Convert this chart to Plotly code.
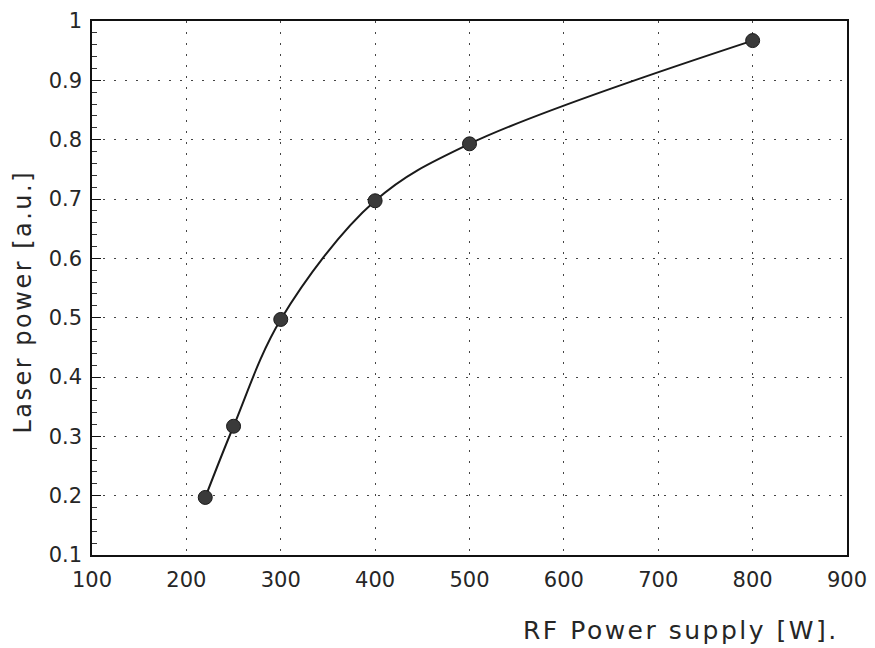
import plotly.graph_objects as go

rf_power = [220, 250, 300, 400, 500, 800]
laser_power = [0.197, 0.317, 0.497, 0.697, 0.793, 0.967]
x_ticks = [100, 200, 300, 400, 500, 600, 700, 800, 900]
y_ticks = [0.1, 0.2, 0.3, 0.4, 0.5, 0.6, 0.7, 0.8, 0.9, 1.0]
y_tick_labels = ["0.1", "0.2", "0.3", "0.4", "0.5", "0.6", "0.7", "0.8", "0.9", "1"]
x_title = "RF Power supply [W]."
y_title = "Laser power [a.u.]"

FONT = "DejaVu Sans"
INK = "#262626"
L, R, T, B = 92, 28, 21, 93
W, H = 875, 648
PW, PH = W - L - R, H - T - B

fig = go.Figure()
fig.add_trace(go.Scatter(
    x=rf_power, y=laser_power,
    mode="lines+markers",
    line=dict(color="#1a1a1a", width=2, shape="spline", smoothing=1.0),
    marker=dict(size=14, color="#3a3a3a", line=dict(color="#1a1a1a", width=1)),
    showlegend=False,
))

grid = dict(showgrid=True, gridcolor="#444444", griddash="2px,9px", gridwidth=1.2)

fig.update_layout(
    width=W, height=H,
    margin=dict(l=L, r=R, t=T, b=B, autoexpand=False),
    paper_bgcolor="white", plot_bgcolor="white",
    font=dict(family=FONT, size=21, color=INK),
    xaxis=dict(
        range=[100, 900], tickmode="array", tickvals=x_ticks,
        ticktext=[str(v) for v in x_ticks], automargin=False,
        showline=True, linecolor="#111111", linewidth=1.5, mirror=True,
        ticks="", zeroline=False, ticklabelstandoff=5,
        tickfont=dict(family=FONT, size=21, color=INK),
        **grid,
    ),
    yaxis=dict(
        range=[0.1, 1.0], tickmode="array", tickvals=y_ticks, ticktext=y_tick_labels,
        automargin=False,
        showline=True, linecolor="#111111", linewidth=1.5, mirror=True,
        ticks="inside", ticklen=9, tickcolor="#111111", zeroline=False,
        minor=dict(dtick=0.02, ticks="inside", ticklen=5, tickcolor="#333333", showgrid=False),
        tickfont=dict(family=FONT, size=21, color=INK),
        ticklabelstandoff=4,
        **grid,
    ),
    annotations=[
        dict(text=x_title, xref="paper", yref="paper",
             x=(681 - L) / PW, y=(H - B - 630) / PH, xanchor="center", yanchor="middle",
             showarrow=False, font=dict(family=FONT, size=25, color=INK)),
        dict(text=y_title, xref="paper", yref="paper", textangle=-90,
             x=(23 - L) / PW, y=(H - B - 302) / PH, xanchor="center", yanchor="middle",
             showarrow=False, font=dict(family=FONT, size=24, color=INK)),
    ],
)

post = ("document.body.style.margin='0';document.body.style.overflow='hidden';"
        "var s=document.createElement('style');"
        "s.innerHTML='.annotation-text{letter-spacing:2.5px;}';"
        "document.head.appendChild(s);")

fig.write_html("out.html", post_script=post, config={"displayModeBar": False})
